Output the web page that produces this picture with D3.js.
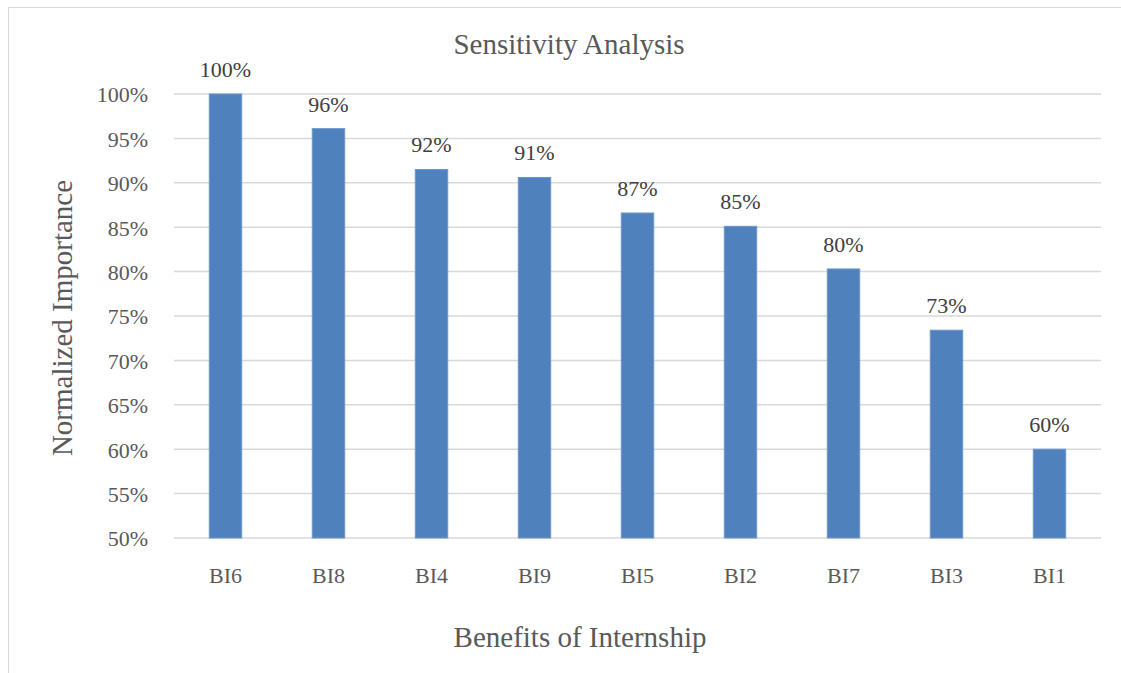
<!DOCTYPE html>
<html>
<head>
<meta charset="utf-8">
<script src="https://cdn.jsdelivr.net/npm/d3@7"></script>
<style>
  html, body { margin: 0; padding: 0; background: #fff; }
  svg { display: block; }
  svg text { font-family: "Times New Roman", "Liberation Serif", "DejaVu Serif", serif !important; }
</style>
</head>
<body>
<svg id="chart" width="1121" height="673"></svg>
<script>
// Sensitivity analysis: normalized importance of each internship benefit
const categories = ["BI6", "BI8", "BI4", "BI9", "BI5", "BI2", "BI7", "BI3", "BI1"];
const importance = [1.000, 0.961, 0.915, 0.906, 0.866, 0.851, 0.803, 0.734, 0.600];
const yTicks = [0.50, 0.55, 0.60, 0.65, 0.70, 0.75, 0.80, 0.85, 0.90, 0.95, 1.00];

const svg = d3.select("#chart");
const W = 1121, H = 673;
const plot = { left: 174, right: 1101, top: 94, bottom: 538 };

// chart frame (top and left edges visible)
svg.append("path")
  .attr("d", `M8.5,${H} V7.5 H${W}`)
  .attr("fill", "none")
  .attr("stroke", "#d9d9d9")
  .attr("stroke-width", 1);

const x = d3.scaleBand()
  .domain(categories)
  .range([plot.left, plot.right])
  .paddingInner(0.685)
  .paddingOuter(0.3425);

const y = d3.scaleLinear()
  .domain([0.5, 1.0])
  .range([plot.bottom, plot.top]);

const pct = d3.format(".0%");

// horizontal gridlines
svg.append("g")
  .selectAll("line")
  .data(yTicks)
  .join("line")
  .attr("x1", plot.left)
  .attr("x2", plot.right)
  .attr("y1", d => y(d))
  .attr("y2", d => y(d))
  .attr("stroke", "#d9d9d9")
  .attr("stroke-width", 1.5);

// y axis tick labels
const yAxis = d3.axisLeft(y).tickValues(yTicks).tickFormat(pct).tickSize(0).tickPadding(26);
const gy = svg.append("g").attr("transform", `translate(${plot.left},0)`).call(yAxis);
gy.select(".domain").remove();
gy.selectAll("text")
  .attr("fill", "#595959")
  .attr("dy", "0.36em")
  .style("font-size", "22px");

// bars
svg.append("g")
  .selectAll("rect")
  .data(categories)
  .join("rect")
  .attr("x", d => x(d))
  .attr("width", x.bandwidth())
  .attr("y", (d, i) => y(importance[i]))
  .attr("height", (d, i) => y(0.5) - y(importance[i]))
  .attr("fill", "#4f81bd")
  .attr("stroke", "#6d97cb")
  .attr("stroke-width", 1);

// value labels
svg.append("g")
  .selectAll("text")
  .data(categories)
  .join("text")
  .attr("x", d => x(d) + x.bandwidth() / 2)
  .attr("y", (d, i) => y(importance[i]) - 17)
  .attr("text-anchor", "middle")
  .attr("fill", "#404040")
  .style("font-size", "22px")
  .text((d, i) => pct(importance[i]));

// x axis category labels
const xAxis = d3.axisBottom(x).tickSize(0).tickPadding(0);
const gx = svg.append("g").attr("transform", `translate(0,${plot.bottom})`).call(xAxis);
gx.select(".domain").remove();
gx.selectAll("text")
  .attr("fill", "#595959")
  .attr("y", 45)
  .attr("dy", 0)
  .style("font-size", "22px");

// title
svg.append("text")
  .attr("x", 569)
  .attr("y", 54)
  .attr("text-anchor", "middle")
  .attr("fill", "#595959")
  .style("font-size", "29px")
  .text("Sensitivity Analysis");

// axis titles
svg.append("text")
  .attr("x", 580)
  .attr("y", 647)
  .attr("text-anchor", "middle")
  .attr("fill", "#595959")
  .style("font-size", "29px")
  .text("Benefits of Internship");

svg.append("text")
  .attr("transform", "translate(72,318) rotate(-90)")
  .attr("text-anchor", "middle")
  .attr("fill", "#595959")
  .style("font-size", "29px")
  .text("Normalized Importance");
</script>
</body>
</html>
